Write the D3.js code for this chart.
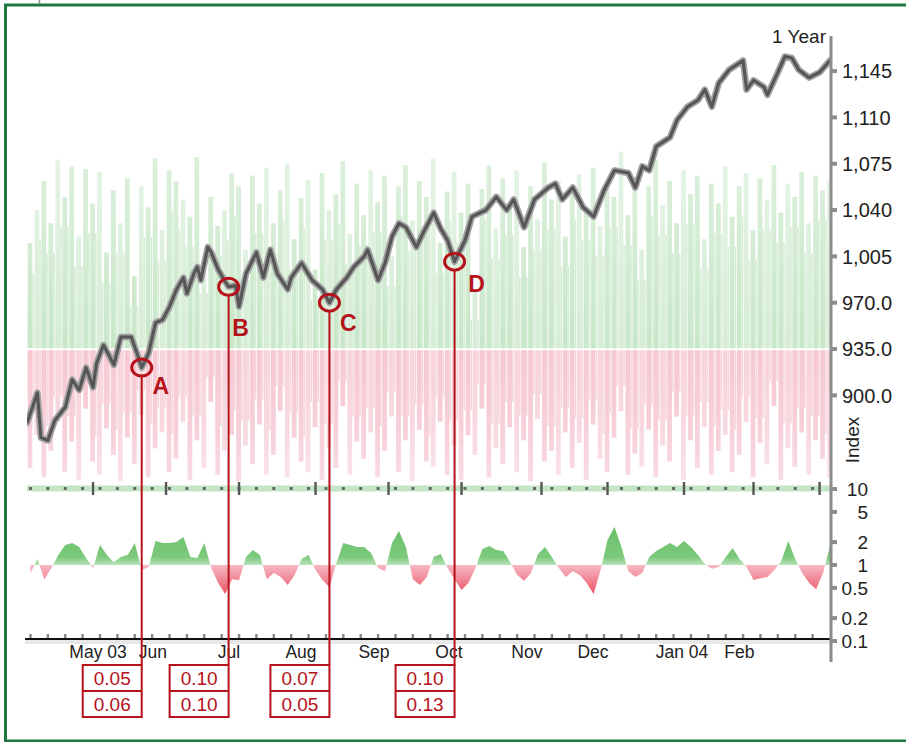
<!DOCTYPE html>
<html><head><meta charset="utf-8">
<script src="https://cdn.jsdelivr.net/npm/d3@7"></script>
<style>
html,body{margin:0;padding:0;background:#fff;}
svg{display:block;font-family:"Liberation Sans",Arial,Helvetica,sans-serif;}
</style></head><body>
<svg id="chart" width="906" height="742"></svg>
<script>
// ---------- data ----------
// trading-day index (0 = start of window) and index level
const priceDays = [0,3,4,6,8,11,13,15,17,19,20,22,25,27,30,32,33,35,37,39,41,43,45,46,48,49,50,52,53,55,57,58,60,61,63,66,68,70,72,75,76,79,82,85,87,89,92,94,97,98,101,103,105,107,109,112,114,117,119,121,123,126,128,132,135,138,140,143,146,150,152,154,157,160,163,166,169,173,175,177,179,181,185,187,190,193,195,197,199,202,206,207,209,212,213,216,218,220,222,225,228,231];
const priceValues = [879,902,868,866,881,891,912,904,921,906,924,938,923,944,944,929,921,932,955,957,967,980,989,977,992,997,987,1012,1008,995,986,982,983,967,992,1008,989,1010,992,980,989,1000,987,980,970,980,989,997,1005,1010,987,1000,1020,1030,1027,1012,1023,1038,1026,1017,1001,1017,1035,1040,1050,1040,1048,1027,1048,1057,1060,1048,1057,1042,1035,1055,1070,1068,1057,1073,1070,1088,1095,1108,1118,1123,1131,1118,1136,1146,1153,1131,1138,1133,1127,1144,1156,1155,1146,1140,1144,1153];

// background bars, one per two trading days (upper = green, lower = pink), in index units
const greenTops = [1015,1040,1062,1030,1078,1050,1073,1020,1071,1045,
 1069,1008,1055,1030,1064,990,1058,1042,1079,1025,
 1070,1062,1048,1035,1080,1000,1050,1028,1040,1068,
 1058,1010,1066,1045,1072,1030,1055,1075,1018,1049,
 1063,995,1068,1040,1052,1077,1022,1060,1036,1070,
 1046,1066,1005,1058,1074,1032,1062,1050,1079,1015,
 1054,1069,1038,1060,980,1056,1074,1026,1064,1044,
 1070,1012,1058,1033,1076,1048,1062,1020,1055,1067,
 1040,1072,1028,1060,1050,1084,1036,1065,1010,1058,
 1078,1044,1062,1030,1070,1052,1066,1018,1060,1045,
 1073,1035,1058,1068,1025,1064,1048,1074,1038,1060,
 1050,1069,1030,1066,1055,1062];
const pinkBottoms = [845,870,838,858,880,842,865,836,890,850,
 840,875,855,835,868,848,885,838,860,872,
 842,852,880,836,866,845,895,840,858,870,
 835,862,848,878,840,855,888,838,868,850,
 842,876,836,860,845,892,840,865,852,872,
 838,858,884,842,866,835,874,850,846,880,
 840,862,836,870,855,890,838,860,848,876,
 842,866,835,882,850,858,840,872,845,864,
 836,878,852,842,868,888,840,856,846,874,
 838,862,850,884,836,866,845,876,840,858,
 870,842,855,880,838,864,848,892,836,860,
 846,872,840,866,852,838];
const barBaseline = 935;

// lower panel ratio (log scale), one per two trading days
const ratioValues = [0.785,1.2,0.65,0.91,1.35,1.83,1.95,1.72,1.24,0.91,
 1.83,1.35,1.09,1.27,1.35,1.95,0.86,0.94,2.07,1.95,
 1.95,2.0,2.34,1.27,1.24,1.95,0.91,0.58,0.415,0.65,
 0.635,1.27,1.57,1.35,0.65,0.785,0.695,0.545,0.74,1.2,
 1.35,0.86,0.635,0.51,1.06,1.95,1.83,1.72,1.72,1.44,
 0.91,0.83,1.95,2.8,1.72,0.65,0.545,0.695,1.27,1.4,
 0.91,0.65,0.47,0.58,0.91,1.62,1.78,1.57,1.53,1.09,
 0.74,0.62,0.785,1.4,1.72,1.27,0.91,0.695,0.83,0.74,
 0.58,0.415,0.86,2.13,3.16,1.72,0.83,0.695,0.785,1.27,
 1.53,1.72,1.95,1.72,2.07,1.72,1.35,1.03,0.89,0.94,
 1.27,1.67,1.2,0.94,0.635,0.67,0.695,0.86,1.13,2.07,
 1.2,0.785,0.58,0.48,0.785,1.78];

const monthDays = [19,40,61,83,104,125,148,167,189,209,228];
const monthLabels = ["May 03","Jun","Jul","Aug","Sep","Oct","Nov","Dec","Jan 04","Feb",""];
const priceTicks = [900,935,970,1005,1040,1075,1110,1145];
const priceTickLabels = ["900.0","935.0","970.0","1,005","1,040","1,075","1,110","1,145"];
const ratioTicks = [0.1,0.2,0.5,1,2,5,10];
const ratioTickLabels = ["0.1","0.2","0.5","1","2","5","10"];

const annLetters = ["A","B","C","D"];
const annDays = [33,58,87,123];
const annTop = ["0.05","0.10","0.07","0.10"];
const annBottom = ["0.06","0.10","0.05","0.13"];

// ---------- layout ----------
const L = 27, R = 830;
const letterOffsets = [[19,18],[12,41],[19,20],[22,22]];
const RED = "#b5121b";
const TXT = "#222";

const svg = d3.select("#chart");
const x = d3.scaleLinear().domain([0,231]).range([L,R]);
const yP = d3.scaleLinear().domain([830,1170]).range([488,38]);
const yR = d3.scaleLog().domain([0.1,10]).range([641,489]);

const defs = svg.append("defs");
defs.append("clipPath").attr("id","plotClip").append("rect")
  .attr("x",L).attr("y",30).attr("width",R-L).attr("height",630);
defs.append("clipPath").attr("id","upClip").append("rect")
  .attr("x",L).attr("y",480).attr("width",R-L).attr("height",yR(1)-480);
defs.append("clipPath").attr("id","downClip").append("rect")
  .attr("x",L).attr("y",yR(1)).attr("width",R-L).attr("height",660-yR(1));
const gg = defs.append("linearGradient").attr("id","gGrad").attr("gradientUnits","userSpaceOnUse")
  .attr("x1",0).attr("x2",0).attr("y1",525).attr("y2",yR(1));
gg.append("stop").attr("offset",0).attr("stop-color","#66be66");
gg.append("stop").attr("offset",0.8).attr("stop-color","#7cc97c");
gg.append("stop").attr("offset",1).attr("stop-color","#b9e2b9");
const rg = defs.append("linearGradient").attr("id","rGrad").attr("gradientUnits","userSpaceOnUse")
  .attr("x1",0).attr("x2",0).attr("y1",yR(1)).attr("y2",600);
rg.append("stop").attr("offset",0).attr("stop-color","#f7b8c3");
rg.append("stop").attr("offset",0.5).attr("stop-color","#f07d8c");
rg.append("stop").attr("offset",1).attr("stop-color","#e63e4a");
// soft fade of the bar tops
const gb = defs.append("linearGradient").attr("id","gBar").attr("gradientUnits","userSpaceOnUse")
  .attr("x1",0).attr("x2",0).attr("y1",yP(1085)).attr("y2",yP(935));
gb.append("stop").attr("offset",0).attr("stop-color","#dcf0dc");
gb.append("stop").attr("offset",0.55).attr("stop-color","#d2ebd2");
gb.append("stop").attr("offset",1).attr("stop-color","#c8e6c8");
const pb = defs.append("linearGradient").attr("id","pBar").attr("gradientUnits","userSpaceOnUse")
  .attr("x1",0).attr("x2",0).attr("y1",yP(935)).attr("y2",yP(832));
pb.append("stop").attr("offset",0).attr("stop-color","#f6c8d2");
pb.append("stop").attr("offset",0.6).attr("stop-color","#f7d0d9");
pb.append("stop").attr("offset",1).attr("stop-color","#f9dce3");

// frame
svg.append("rect").attr("x",5.5).attr("y",5).attr("width",930).attr("height",736)
  .attr("fill","none").attr("stroke","#1d7a40").attr("stroke-width",3);
svg.append("line").attr("x1",39.5).attr("x2",39.5).attr("y1",0).attr("y2",4)
  .attr("stroke","#888").attr("stroke-width",1.5);

const plot = svg.append("g").attr("clip-path","url(#plotClip)");
const bw = x(2)-x(0);

// background bars
plot.append("g").selectAll("rect").data(greenTops).join("rect")
  .attr("x",(d,i)=>x(2*i)+0.6).attr("width",bw-2.2)
  .attr("y",d=>yP(d)).attr("height",d=>yP(barBaseline)-0.8-yP(d))
  .attr("fill","url(#gBar)").attr("opacity",(d,i)=>i%3===1?0.75:1);
plot.append("g").selectAll("rect").data(greenTops).join("rect")
  .attr("x",(d,i)=>x(2*i)+bw-1.6).attr("width",1.6)
  .attr("y",(d,i)=>yP(Math.min(d,greenTops[(i+1)%greenTops.length]))+30)
  .attr("height",(d,i)=>Math.max(0,yP(barBaseline)-0.8-yP(Math.min(d,greenTops[(i+1)%greenTops.length]))-30))
  .attr("fill","#d6edd6");
plot.append("g").selectAll("rect").data(pinkBottoms).join("rect")
  .attr("x",(d,i)=>x(2*i)+0.6).attr("width",bw-2.2)
  .attr("y",yP(barBaseline)+1.2).attr("height",d=>yP(d)-yP(barBaseline)-1.2)
  .attr("fill","url(#pBar)").attr("opacity",(d,i)=>i%3===1?0.8:1);
plot.append("g").selectAll("rect").data(pinkBottoms).join("rect")
  .attr("x",(d,i)=>x(2*i)+bw-1.6).attr("width",1.6)
  .attr("y",yP(barBaseline)+1.2)
  .attr("height",(d,i)=>Math.max(0,yP(Math.max(d,pinkBottoms[(i+1)%pinkBottoms.length]))-yP(barBaseline)-1.2-25))
  .attr("fill","#f8d6de");

// band at top of lower panel
plot.append("rect").attr("x",L).attr("width",R-L).attr("y",485.5).attr("height",6).attr("fill","#c5e6c5");
const minorDays = d3.range(1,231,5);
plot.append("g").selectAll("rect").data(minorDays).join("rect")
  .attr("x",d=>x(d)-1.5).attr("y",487).attr("width",3).attr("height",3).attr("fill","#666");
plot.append("g").selectAll("rect").data(monthDays).join("rect")
  .attr("x",d=>x(d)-1.2).attr("y",482).attr("width",2.4).attr("height",13).attr("fill","#555");

// price line
const line = d3.line().x((d,i)=>x(priceDays[i])).y(d=>yP(d)).curve(d3.curveLinear);
plot.append("path").attr("d",line(priceValues)).attr("fill","none")
  .attr("stroke","#a0a0a0").attr("stroke-width",6.5).attr("stroke-linejoin","round").attr("stroke-linecap","round");
plot.append("path").attr("d",line(priceValues)).attr("fill","none")
  .attr("stroke","#555").attr("stroke-width",3).attr("stroke-linejoin","round");

// lower ratio area
const area = d3.area().x((d,i)=>x(2*i+1)).y0(yR(1)).y1(d=>yR(d));
plot.append("path").attr("d",area(ratioValues)).attr("fill","url(#gGrad)").attr("clip-path","url(#upClip)");
plot.append("path").attr("d",area(ratioValues)).attr("fill","url(#rGrad)").attr("clip-path","url(#downClip)");

// bottom axis
svg.append("rect").attr("x",25).attr("width",R-25).attr("y",640).attr("height",4).attr("fill","#e8e8e8");
svg.append("line").attr("x1",25).attr("x2",R).attr("y1",639).attr("y2",639).attr("stroke","#111").attr("stroke-width",2);
svg.append("g").selectAll("rect").data(minorDays).join("rect")
  .attr("x",d=>x(d)-1.2).attr("y",634).attr("width",2.4).attr("height",4).attr("fill","#888");
svg.append("g").selectAll("text").data(monthLabels).join("text")
  .attr("x",(d,i)=>d.includes(" ")?x(monthDays[i])+(i===0?5:-2):x(monthDays[i])+1)
  .attr("y",658).attr("text-anchor",d=>d.includes(" ")?"middle":"end")
  .attr("font-size",17.5).attr("fill",TXT).text(d=>d);

// right axis
svg.append("line").attr("x1",831).attr("x2",831).attr("y1",36).attr("y2",662).attr("stroke","#8c8c8c").attr("stroke-width",3);
svg.append("g").selectAll("rect").data(priceTicks).join("rect")
  .attr("x",832).attr("y",d=>yP(d)-2).attr("width",5).attr("height",4).attr("fill","#8c8c8c");
svg.append("g").selectAll("text").data(priceTickLabels).join("text")
  .attr("x",842).attr("y",(d,i)=>yP(priceTicks[i])).attr("dy","0.36em")
  .attr("font-size",20).attr("fill",TXT).text(d=>d);
svg.append("g").selectAll("rect").data(ratioTicks).join("rect")
  .attr("x",832).attr("y",d=>yR(d)-2).attr("width",5).attr("height",4).attr("fill","#8c8c8c");
svg.append("g").selectAll("text").data(ratioTickLabels).join("text")
  .attr("x",868).attr("y",(d,i)=>yR(ratioTicks[i])).attr("dy","0.36em").attr("text-anchor","end")
  .attr("font-size",19).attr("fill",TXT).text(d=>d);
svg.append("text").attr("x",826).attr("y",43).attr("text-anchor","end").attr("font-size",19).attr("fill",TXT).text("1 Year");
svg.append("text").attr("transform","translate(852,440) rotate(-90)").attr("text-anchor","middle").attr("dy","0.36em")
  .attr("font-size",19).attr("fill",TXT).text("Index");

// annotations
const boxTop = 665, rowH = 26, boxW = 59;
annLetters.forEach((lab,i)=>{
  const d = annDays[i];
  const v = priceValues[priceDays.indexOf(d)];
  const cx = x(d), cy = yP(v);
  const g = svg.append("g");
  g.append("line").attr("x1",cx).attr("x2",cx).attr("y1",cy+9).attr("y2",boxTop)
    .attr("stroke",RED).attr("stroke-width",2);
  g.append("ellipse").attr("cx",cx).attr("cy",cy).attr("rx",10).attr("ry",8.5)
    .attr("fill","none").attr("stroke",RED).attr("stroke-width",3);
  g.append("text").attr("x",cx+letterOffsets[i][0]).attr("y",cy+letterOffsets[i][1]).attr("dy","0.36em")
    .attr("text-anchor","middle").attr("font-size",23).attr("font-weight","bold").attr("fill",RED).text(lab);
  g.append("rect").attr("x",cx-boxW).attr("y",boxTop).attr("width",boxW).attr("height",rowH*2)
    .attr("fill","#fff").attr("stroke",RED).attr("stroke-width",2);
  g.append("line").attr("x1",cx-boxW).attr("x2",cx).attr("y1",boxTop+rowH).attr("y2",boxTop+rowH)
    .attr("stroke",RED).attr("stroke-width",2);
  g.append("text").attr("x",cx-boxW/2).attr("y",boxTop+rowH/2).attr("dy","0.36em").attr("text-anchor","middle")
    .attr("font-size",19).attr("fill",RED).text(annTop[i]);
  g.append("text").attr("x",cx-boxW/2).attr("y",boxTop+rowH*1.5).attr("dy","0.36em").attr("text-anchor","middle")
    .attr("font-size",19).attr("fill",RED).text(annBottom[i]);
});
</script>
</body></html>
